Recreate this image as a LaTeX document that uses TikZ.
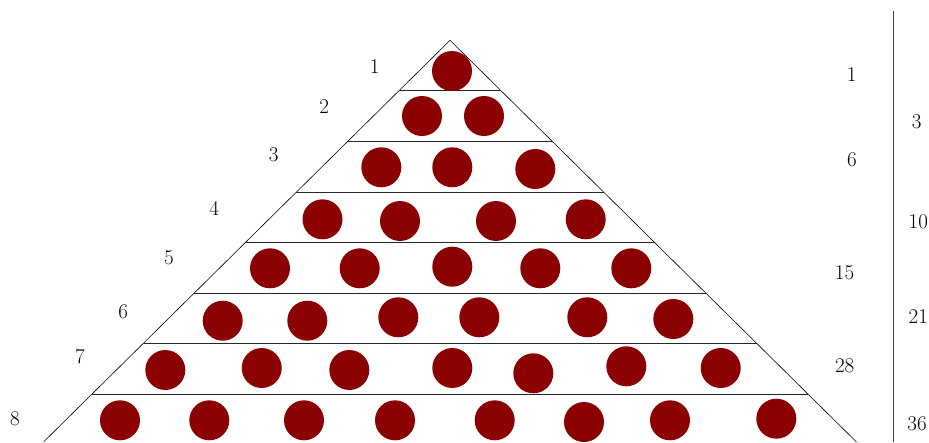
\documentclass[tikz,border=0pt]{standalone}
\usepackage{tikz}
\definecolor{ballred}{RGB}{139,0,0}
\tikzset{
  ball/.style={circle,fill=ballred,draw=none,minimum size=40pt,inner sep=0pt},
  lab/.style={font=\fontsize{21}{25}\selectfont,inner sep=0pt},
  edge/.style={black,line width=0.6pt},
  rowline/.style={black!85,line width=0.9pt},
  sideline/.style={black!75,line width=0.8pt}
}
\begin{document}
\begin{tikzpicture}[x=1pt,y=-1pt]
\useasboundingbox (0,0) rectangle (929,442);
\clip (0,0) rectangle (929,442);
% triangle
\coordinate (apex) at (450,40.3);
\coordinate (bl) at (43.5,442);
\coordinate (br) at (856.5,442);
\draw[edge] (bl) -- (apex) -- (br);
\foreach \k in {1,...,7}{
  \pgfmathsetmacro{\yy}{40.3+50.57*\k}
  \pgfmathsetmacro{\hw}{(\yy-40.3)*1.012}
  \coordinate (L\k) at (450-\hw,\yy);
  \coordinate (R\k) at (450+\hw,\yy);
  \draw[rowline] (L\k) -- (R\k);
}
% side line
\coordinate (vt) at (893,11);
\coordinate (vb) at (893,442);
\draw[sideline] (vt) -- (vb);
% balls
\foreach \x/\y [count=\i] in {452/71}{\node[ball] (ba\i) at (\x,\y) {};}
\foreach \x/\y [count=\i] in {422/116,484/116}{\node[ball] (bb\i) at (\x,\y) {};}
\foreach \x/\y [count=\i] in {381.3/167.3,452.3/167.3,535.3/169}{\node[ball] (bc\i) at (\x,\y) {};}
\foreach \x/\y [count=\i] in {322.5/219.3,400/221,496/221,585.7/219.3}{\node[ball] (bd\i) at (\x,\y) {};}
\foreach \x/\y [count=\i] in {270/268.3,359.7/268.3,452.3/266.7,540.3/268.3,631.3/268.3}{\node[ball] (be\i) at (\x,\y) {};}
\foreach \x/\y [count=\i] in {222.7/320.7,307.3/320.7,398.3/317.3,479.3/317.3,587.3/317.3,673.3/319}{\node[ball] (bf\i) at (\x,\y) {};}
\foreach \x/\y [count=\i] in {165.3/370,261.7/368,349.3/370,452.3/368,533.3/373.3,626.3/366.3,720.7/368}{\node[ball] (bg\i) at (\x,\y) {};}
\foreach \x/\y [count=\i] in {120/420.3,209.3/420.3,304/420.3,395/420.3,494.7/420.3,584/422,670/420.3,776.3/418.7}{\node[ball] (bh\i) at (\x,\y) {};}
% left labels
\node[lab] (l1) at (374.7,66.3) {1};
\node[lab] (l2) at (324.3,106.7) {2};
\node[lab] (l3) at (273.7,154.3) {3};
\node[lab] (l4) at (214.3,208.2) {4};
\node[lab] (l5) at (169,258.2) {5};
\node[lab] (l6) at (123.3,311.8) {6};
\node[lab] (l7) at (80,356.5) {7};
\node[lab] (l8) at (15,419) {8};
% right labels
\node[lab] (r1) at (851.7,74.7) {1};
\node[lab] (r6) at (852,160) {6};
\node[lab] (r15) at (844.5,272.3) {15};
\node[lab] (r28) at (844.7,365.7) {28};
\node[lab] (s3) at (916.7,121.7) {3};
\node[lab] (s10) at (918.3,221.7) {10};
\node[lab] (s21) at (918.3,317) {21};
\node[lab] (s36) at (917,424) {36};
\end{tikzpicture}
\end{document}
